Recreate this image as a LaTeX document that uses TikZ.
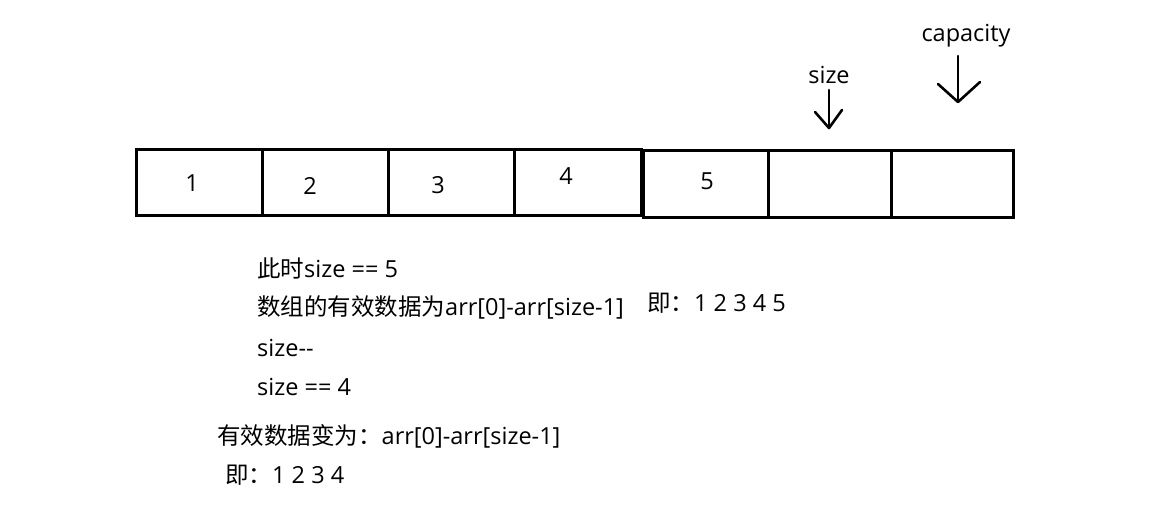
\documentclass[tikz,border=0pt]{standalone}
\usepackage{fontspec}
\setmainfont{Open Sans}
\newfontfamily\cjk{Noto Sans CJK SC}
\begin{document}
\begin{tikzpicture}[x=1pt,y=-1pt,
  cell/.style={draw=black,line width=3pt,minimum width=#1,minimum height=66pt,inner sep=0pt,outer sep=0pt},
  num/.style={font=\fontsize{23.5}{26}\selectfont,inner sep=0pt},
  txt/.style={font=\fontsize{23.5}{26}\selectfont,inner sep=0pt,anchor=west},
  hand/.style={line width=2.6pt,line cap=round,line join=round}]
\useasboundingbox[fill=white] (0,0) rectangle (1175,522);
% first four cells
\node[cell=126pt] (c1) at (199,182) {};
\node[cell=126pt] (c2) at (325,182) {};
\node[cell=126pt] (c3) at (451,182) {};
\node[cell=127pt] (c4) at (577.5,182) {};
% last three cells
\node[cell=125pt,minimum height=67pt] (c5) at (705.5,183.5) {};
\node[cell=123pt,minimum height=67pt] (c6) at (829.5,183.5) {};
\node[cell=122pt,minimum height=67pt] (c7) at (952,183.5) {};
% numbers
\node[num] (n1) at (192,183) {1};
\node[num] (n2) at (310,186) {2};
\node[num] (n3) at (438,185) {3};
\node[num] (n4) at (566,176) {4};
\node[num] (n5) at (707,181) {5};
% size pointer
\node[num] (sz) at (829,75) {size};
\coordinate (szt) at (829,128);
\draw[hand] (829,90) -- (szt);
\draw[hand] (815,112) -- (szt) -- (842,110);
% capacity pointer
\node[num] (cap) at (966,36) {capacity};
\coordinate (capt) at (958,102);
\draw[hand] (958,56) -- (capt);
\draw[hand] (938,84) -- (capt) -- (980,82);
% texts
\node[txt] (t1) at (257,268) {{\cjk 此时}size == 5};
\node[txt] (t2) at (257,307) {{\cjk 数组的有效数据为}arr[0]-arr[size-1]};
\node[txt] (t3) at (647,303) {{\cjk 即：}1 2 3 4 5};
\node[txt] (t4) at (257,348) {size{-}{-}};
\node[txt] (t5) at (257,387) {size == 4};
\node[txt] (t6) at (217,436) {{\cjk 有效数据变为：}arr[0]-arr[size-1]};
\node[txt] (t7) at (225,475) {{\cjk 即：}1 2 3 4};
\end{tikzpicture}
\end{document}
